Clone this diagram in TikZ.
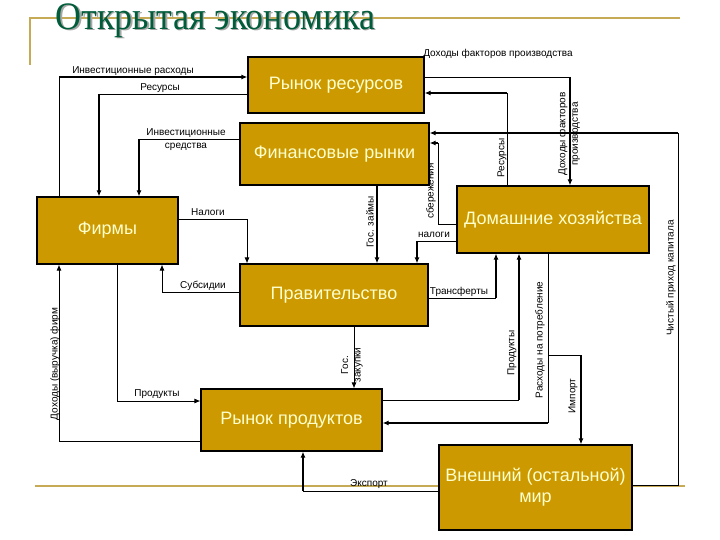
\documentclass[tikz,border=0pt]{standalone}
\usepackage{fontspec}
\setmainfont{Liberation Sans}
\newfontfamily\titlefont{Liberation Serif}
\usepackage{xcolor}
\usepackage{tikz}
\usetikzlibrary{arrows.meta,positioning,calc}
\definecolor{boxgold}{RGB}{204,153,0}
\definecolor{boxtext}{RGB}{255,255,204}
\definecolor{titlegreen}{RGB}{0,92,58}
\definecolor{rulegold}{RGB}{198,170,86}
\tikzset{
  ecobox/.style={draw, line width=1.2pt, fill=boxgold, text=boxtext, align=center, inner sep=2pt, font=\fontsize{18}{21}\selectfont},
  flowlbl/.style={inner sep=0pt, align=center, font=\fontsize{10}{12.5}\selectfont},
  flowthin/.style={line width=0.8pt},
  flowmsg/.style={-{Latex[length=6pt,width=5pt]}, line width=0.8pt},
  flowbold/.style={-{Latex[length=6pt,width=5pt]}, line width=2pt},
  goldrule/.style={draw=rulegold, line width=2pt},
  titletext/.style={anchor=base west, yscale=1.08, font=\titlefont\fontsize{36}{40}\selectfont}
}
\begin{document}
\begin{tikzpicture}[x=1pt, y=-1pt]
\useasboundingbox (0,0) rectangle (720,540);
\draw[goldrule] (30,65) -- (30,18) -- (680,18);
\draw[goldrule] (35,486) -- (685,486);
\node[titletext, text=black!35] (titleshadow) at (53.5,31) {Открытая экономика};
\node[titletext, text=titlegreen] (title) at (52,29.5) {Открытая экономика};

\node[ecobox, minimum width=176pt, minimum height=56pt] (resmarket) at (336,85) {Рынок ресурсов};
\node[ecobox, minimum width=189pt, minimum height=62pt] (finmarket) at (334.5,154) {Финансовые рынки};
\node[ecobox, minimum width=141pt, minimum height=67pt] (firms) at (107.5,230.5) {Фирмы};
\node[ecobox, minimum width=192pt, minimum height=67pt] (households) at (553,219.5) {Домашние хозяйства};
\node[ecobox, minimum width=188pt, minimum height=62pt] (government) at (334,295) {Правительство};
\node[ecobox, minimum width=181pt, minimum height=62pt] (prodmarket) at (291.5,420) {Рынок продуктов};
\node[ecobox, minimum width=193pt, minimum height=85pt] (world) at (535.5,487.5) {Внешний (остальной)\\мир};

\coordinate (ir) at (59,77);
\coordinate (rs) at (99,94);
\coordinate (is) at (139,139);
\coordinate (tx) at (247,219);
\coordinate (sb) at (162,292);
\coordinate (gz) at (377,240);
\coordinate (sv1) at (438,224);
\coordinate (sv2) at (438,143);
\coordinate (cp1) at (678,485);
\coordinate (cp2) at (678,133);
\coordinate (hn) at (417,241);
\coordinate (tr) at (496,298);
\coordinate (pr) at (519,400);
\coordinate (ce) at (548,423);
\coordinate (im1) at (548,355);
\coordinate (im2) at (581,355);
\coordinate (ex) at (303,491);
\coordinate (rv) at (59,441);
\coordinate (pl) at (117,401);
\coordinate (gp) at (354,360);
\coordinate (fi) at (570,77);
\coordinate (rr) at (507,93);

\draw[flowthin] (firms.north -| ir) -- (ir);
\draw[flowbold] (ir) -- (resmarket.west |- ir);
\draw[flowthin] (resmarket.west |- rs) -- (rs);
\draw[flowbold] (rs) -- (firms.north -| rs);
\draw[flowthin] (finmarket.west |- is) -- (is);
\draw[flowbold] (is) -- (firms.north -| is);
\draw[flowmsg] (firms.east |- tx) -- (tx) -- (government.north -| tx);
\draw[flowmsg] (government.west |- sb) -- (sb) -- (firms.south -| sb);
\draw[flowbold] (finmarket.south -| gz) -- (government.north -| gz);
\draw[flowthin] (households.west |- sv1) -- (sv1) -- (sv2);
\draw[flowbold] (sv2) -- (finmarket.east |- sv2);
\draw[flowthin] (world.east |- cp1) -- (cp1) -- (cp2);
\draw[flowbold] (cp2) -- (finmarket.east |- cp2);
\draw[flowthin] (households.west |- hn) -- (hn);
\draw[flowbold] (hn) -- (government.north -| hn);
\draw[flowthin] (government.east |- tr) -- (tr);
\draw[flowbold] (tr) -- (households.south -| tr);
\draw[flowthin] (prodmarket.east |- pr) -- (pr);
\draw[flowbold] (pr) -- (households.south -| pr);
\draw[flowthin] (households.south -| ce) -- (ce);
\draw[flowbold] (ce) -- (prodmarket.east |- ce);
\draw[flowthin] (im1) -- (im2);
\draw[flowbold] (im2) -- (world.north -| im2);
\draw[flowthin] (world.west |- ex) -- (ex);
\draw[flowbold] (ex) -- (prodmarket.south -| ex);
\draw[flowmsg] (prodmarket.west |- rv) -- (rv) -- (firms.south -| rv);
\draw[flowmsg] (firms.south -| pl) -- (pl) -- (prodmarket.west |- pl);
\draw[flowmsg] (government.south -| gp) -- (prodmarket.north -| gp);
\draw[flowthin] (resmarket.east |- fi) -- (fi);
\draw[flowbold] (fi) -- (households.north -| fi);
\draw[flowthin] (households.north -| rr) -- (rr);
\draw[flowbold] (rr) -- (resmarket.east |- rr);

\node[flowlbl] (tInvExp) at (133,71) {Инвестиционные расходы};
\node[flowlbl] (tResL) at (160,88) {Ресурсы};
\node[flowlbl] (tInvFunds) at (186,139.5) {Инвестиционные\\средства};
\node[flowlbl] (tTaxF) at (208,212) {Налоги};
\node[flowlbl] (tSubs) at (203,286) {Субсидии};
\node[flowlbl, rotate=90] (tLoans) at (370,222) {Гос. займы};
\node[flowlbl, rotate=90] (tSave) at (431,191) {сбережения};
\node[flowlbl] (tTaxH) at (434,235) {налоги};
\node[flowlbl] (tIncTop) at (498,54) {Доходы факторов производства};
\node[flowlbl, rotate=90] (tResR) at (502,158) {Ресурсы};
\node[flowlbl, rotate=90] (tIncSide) at (569,134) {Доходы факторов\\производства};
\node[flowlbl, rotate=90] (tCapital) at (671,278) {Чистый приход капитала};
\node[flowlbl] (tTransf) at (459,292) {Трансферты};
\node[flowlbl, rotate=90] (tProdR) at (512,353) {Продукты};
\node[flowlbl, rotate=90] (tCons) at (540,340) {Расходы на потребление};
\node[flowlbl, rotate=90] (tImp) at (573,396) {Импорт};
\node[flowlbl] (tExp) at (369,484) {Экспорт};
\node[flowlbl, rotate=90] (tRev) at (55,364) {Доходы (выручка) фирм};
\node[flowlbl] (tProdL) at (157,394) {Продукты};
\node[flowlbl, rotate=90] (tPurch) at (352,365) {Гос.\\закупки};
\end{tikzpicture}
\end{document}
